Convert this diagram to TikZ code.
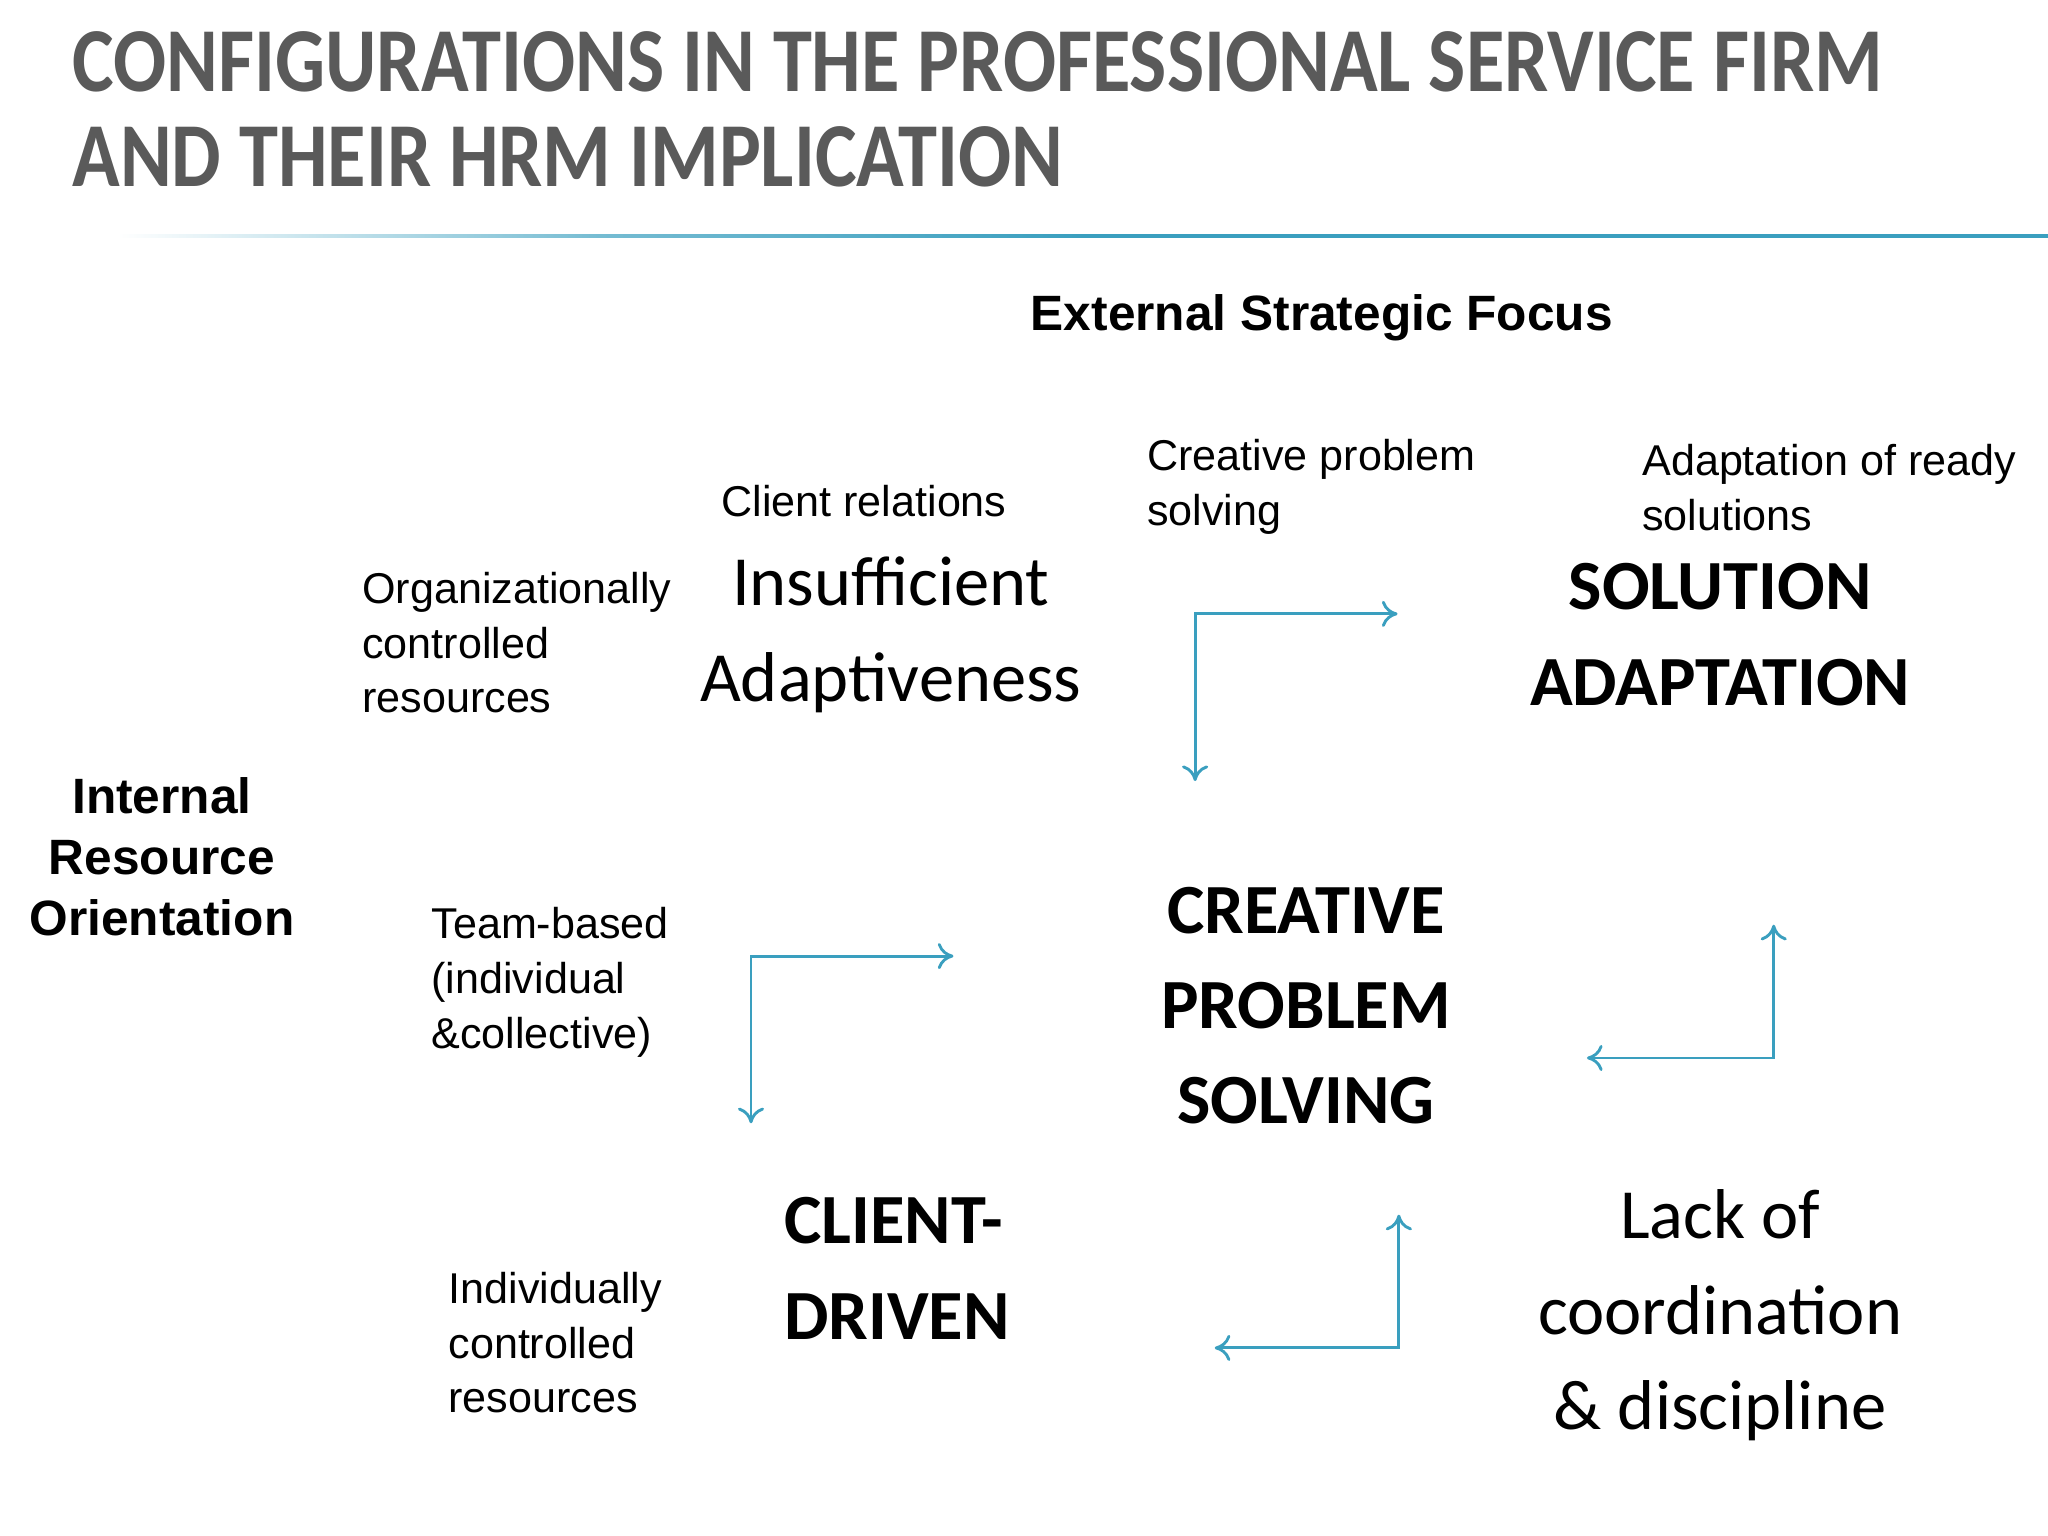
\documentclass[tikz,border=0pt]{standalone}
\usepackage{fontspec}
\setmainfont{Liberation Sans}
\newfontfamily\carfont{Carlito}
\usetikzlibrary{arrows.meta}
\definecolor{teal1}{HTML}{3A9FBF}
\definecolor{ttl}{HTML}{5A5A5A}
\tikzset{
  x=0.5pt,y=-0.5pt,
  body/.style={inner sep=0pt,align=left,font=\fontsize{16.5}{21}\selectfont},
  big/.style={inner sep=0pt,align=center,font=\carfont\fontsize{27}{36.5}\selectfont},
  bigb/.style={inner sep=0pt,align=center,font=\carfont\bfseries\fontsize{27}{36.5}\selectfont},
  ttlstyle/.style={anchor=west,inner sep=0pt,text=ttl,font=\carfont\bfseries\fontsize{35}{36}\selectfont},
  conn/.style={draw=teal1,line width=1.1pt,{To[length=6pt,width=10pt]}-{To[length=6pt,width=10pt]}},
}
\begin{document}
\begin{tikzpicture}
\useasboundingbox (0,0) rectangle (1568,1176);
\node[ttlstyle] (t1) at (55,47) {\scalebox{0.86}[1]{CONFIGURATIONS IN THE PROFESSIONAL SERVICE FIRM}};
\node[ttlstyle] (t2) at (55,120) {\scalebox{0.86}[1]{AND THEIR HRM IMPLICATION}};
\shade[left color=white,right color=teal1,middle color=teal1!70] (90,179.5) rectangle (830,182);
\fill[teal1] (830,179.5) rectangle (1568,182);

\node[inner sep=0pt,font=\bfseries\fontsize{19}{22}\selectfont] (esf) at (1012,243) {External Strategic Focus};
\node[inner sep=0pt,align=center,font=\bfseries\fontsize{19}{23.5}\selectfont] (iro) at (124,656) {Internal\\Resource\\Orientation};

\node[body,anchor=west] (cr) at (552,384) {Client relations};
\node[body,anchor=west] (cps) at (878,373) {Creative problem\\solving};
\node[body,anchor=west] (aor) at (1257,373) {Adaptation of ready\\solutions};
\node[body,anchor=west] (ocr) at (277,492) {Organizationally\\controlled\\resources};
\node[body,anchor=west] (tb) at (330,752) {Team-based\\(individual\\\&collective)};
\node[body,anchor=west] (icr) at (343,1028) {Individually\\controlled\\resources};

\node[big] (ia) at (682,486) {Insufficient\\Adaptiveness};
\node[bigb] (sa) at (1317,486) {SOLUTION\\ADAPTATION};
\node[bigb] (cpsb) at (1000,770) {CREATIVE\\PROBLEM\\SOLVING};
\node[bigb,align=left,anchor=west] (cd) at (600,971) {CLIENT-\\DRIVEN};
\node[big] (lc) at (1317,1007) {Lack of\\coordination\\\& discipline};

\coordinate (a1) at (1070,470); \coordinate (c1) at (915,470); \coordinate (b1) at (915,598);
\coordinate (a2) at (730,732); \coordinate (c2) at (575,732); \coordinate (b2) at (575,860);
\coordinate (a3) at (1358,708); \coordinate (c3) at (1358,810); \coordinate (b3) at (1215,810);
\coordinate (a4) at (1071,930); \coordinate (c4) at (1071,1032); \coordinate (b4) at (930,1032);
\draw[conn] (a1) -- (c1) -- (b1);
\draw[conn] (a2) -- (c2) -- (b2);
\draw[conn] (a3) -- (c3) -- (b3);
\draw[conn] (a4) -- (c4) -- (b4);
\end{tikzpicture}
\end{document}
